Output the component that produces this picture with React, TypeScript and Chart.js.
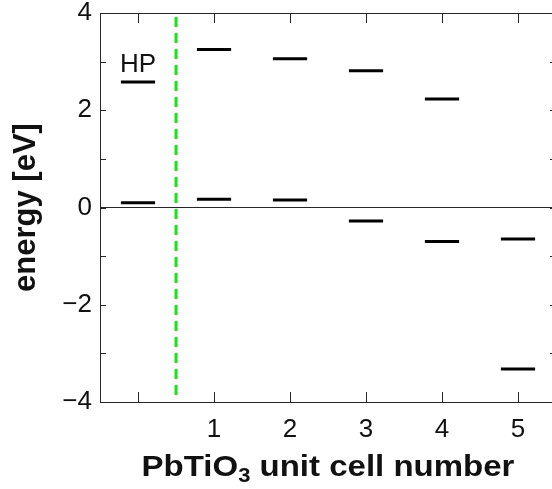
import React, { useEffect, useRef } from 'react';
import { Chart, registerables } from 'chart.js';
Chart.register(...registerables);

// ---- data ----
const cellNumbers = [0, 1, 2, 3, 4, 5];
const xTickLabels = ['', '1', '2', '3', '4', '5'];
const upperLevels = [2.58, 3.25, 3.06, 2.81, 2.23, -0.65];
const lowerLevels = [0.1, 0.17, 0.155, -0.28, -0.7, -3.32];
const yTickValues = [-4, -3, -2, -1, 0, 1, 2, 3, 4];
const yTickLabels = ['−4', '', '−2', '', '0', '', '2', '', '4'];
const boundaryX = [0.5];
const hpLabel = 'HP';
const xTitleMain = 'PbTiO';
const xTitleSub = '3';
const xTitleRest = ' unit cell number';
const yTitle = 'energy [eV]';

// ---- style constants ----
const X_MIN = -0.5;
const X_MAX = 5.5;
const Y_MIN = -4;
const Y_MAX = 4;
const SEG_HALF = 0.225;
const FONT = '"Liberation Sans", Arial, Helvetica, sans-serif';
const AXIS_COLOR = '#262626';
const TEXT_COLOR = '#111111';

export default function App() {
  const ref = useRef<HTMLCanvasElement | null>(null);

  useEffect(() => {
    const canvas = ref.current;
    if (!canvas) return;

    const datasets: any[] = [];
    cellNumbers.forEach((c, i) => {
      [upperLevels[i], lowerLevels[i]].forEach((v) => {
        datasets.push({
          data: [
            { x: c - SEG_HALF, y: v },
            { x: c + SEG_HALF, y: v },
          ],
          showLine: true,
          borderColor: '#000000',
          borderWidth: 3,
          borderCapStyle: 'butt',
          pointRadius: 0,
        });
      });
    });
    datasets.push({
      data: [
        { x: X_MIN, y: 0 },
        { x: X_MAX, y: 0 },
      ],
      showLine: true,
      borderColor: AXIS_COLOR,
      borderWidth: 1,
      pointRadius: 0,
    });
    boundaryX.forEach((bx) => {
      datasets.push({
        data: [
          { x: bx, y: Y_MAX - 0.08 },
          { x: bx, y: Y_MIN + 0.08 },
        ],
        showLine: true,
        borderColor: '#14e614',
        borderWidth: 3,
        borderDash: [10, 6],
        borderCapStyle: 'butt',
        pointRadius: 0,
      });
    });

    const framePlugin = {
      id: 'frame',
      afterDraw(chart: any) {
        const { ctx, chartArea } = chart;
        const { left, right, top, bottom } = chartArea;
        const xs = chart.scales.x;
        const ys = chart.scales.y;
        ctx.save();
        ctx.strokeStyle = AXIS_COLOR;
        ctx.lineWidth = 1;
        ctx.beginPath();
        ctx.rect(left + 0.5, top + 0.5, right - left, bottom - top);
        ctx.stroke();
        ctx.beginPath();
        cellNumbers.forEach((v) => {
          const px = Math.round(xs.getPixelForValue(v)) + 0.5;
          ctx.moveTo(px, bottom);
          ctx.lineTo(px, bottom - 10);
          ctx.moveTo(px, top);
          ctx.lineTo(px, top + 10);
        });
        yTickValues.forEach((v) => {
          const py = Math.round(ys.getPixelForValue(v)) + 0.5;
          ctx.moveTo(left, py);
          ctx.lineTo(left + 6, py);
          ctx.moveTo(right, py);
          ctx.lineTo(right - 6, py);
        });
        ctx.stroke();

        // HP label
        ctx.fillStyle = TEXT_COLOR;
        ctx.font = `26px ${FONT}`;
        ctx.textAlign = 'center';
        ctx.textBaseline = 'alphabetic';
        ctx.fillText(
          hpLabel,
          xs.getPixelForValue(cellNumbers[0]),
          ys.getPixelForValue(upperLevels[0]) - 10
        );

        // y title
        ctx.save();
        ctx.translate(26, (top + bottom) / 2);
        ctx.rotate(-Math.PI / 2);
        ctx.font = `bold 31px ${FONT}`;
        ctx.textAlign = 'center';
        ctx.textBaseline = 'middle';
        ctx.fillText(yTitle, 0, 0);
        ctx.restore();

        // x title with subscript (slightly widened like the reference)
        const mainFont = `bold 30px ${FONT}`;
        const subFont = `bold 20px ${FONT}`;
        ctx.font = mainFont;
        const w1 = ctx.measureText(xTitleMain).width;
        const w3 = ctx.measureText(xTitleRest).width;
        ctx.font = subFont;
        const w2 = ctx.measureText(xTitleSub).width;
        const total = w1 + w2 + w3;
        const cx = (left + right) / 2;
        const base = 476;
        ctx.save();
        ctx.translate(cx, base);
        ctx.scale(1.1, 1);
        let x0 = -total / 2;
        ctx.textAlign = 'left';
        ctx.textBaseline = 'alphabetic';
        ctx.font = mainFont;
        ctx.fillText(xTitleMain, x0, 0);
        x0 += w1;
        ctx.font = subFont;
        ctx.fillText(xTitleSub, x0, 6);
        x0 += w2;
        ctx.font = mainFont;
        ctx.fillText(xTitleRest, x0, 0);
        ctx.restore();
        ctx.restore();
      },
    };

    const chart = new Chart(canvas, {
      type: 'scatter',
      data: { datasets },
      options: {
        animation: false,
        responsive: false,
        devicePixelRatio: 1,
        layout: { padding: { top: 13, right: 4, left: 0, bottom: 0 } },
        plugins: {
          legend: { display: false },
          tooltip: { enabled: false },
        },
        scales: {
          x: {
            type: 'linear',
            min: X_MIN,
            max: X_MAX,
            afterBuildTicks: (s: any) => {
              s.ticks = cellNumbers.map((v) => ({ value: v }));
            },
            afterFit: (s: any) => {
              s.height = 87;
              s.paddingLeft = 0;
              s.paddingRight = 0;
            },
            ticks: {
              autoSkip: false,
              maxRotation: 0,
              padding: 12,
              color: TEXT_COLOR,
              font: { family: FONT, size: 26 },
              callback: (v: any) => {
                const i = cellNumbers.indexOf(Number(v));
                return i >= 0 ? xTickLabels[i] : '';
              },
            },
            grid: { display: false, drawTicks: false },
            border: { display: false },
          },
          y: {
            type: 'linear',
            min: Y_MIN,
            max: Y_MAX,
            afterBuildTicks: (s: any) => {
              s.ticks = yTickValues.map((v) => ({ value: v }));
            },
            afterFit: (s: any) => {
              s.width = 100;
              s.paddingTop = 0;
              s.paddingBottom = 0;
            },
            ticks: {
              autoSkip: false,
              padding: 8,
              color: TEXT_COLOR,
              font: { family: FONT, size: 26 },
              callback: (v: any) => {
                const i = yTickValues.indexOf(Number(v));
                return i >= 0 ? yTickLabels[i] : '';
              },
            },
            grid: { display: false, drawTicks: false },
            border: { display: false },
          },
        },
      },
      plugins: [framePlugin],
    });
    return () => chart.destroy();
  }, []);

  return (
    <div
      style={{
        position: 'fixed',
        left: 0,
        top: 0,
        width: 552,
        height: 489,
        overflow: 'hidden',
        background: '#ffffff',
      }}
    >
      <canvas ref={ref} width={560} height={489} style={{ display: 'block' }} />
    </div>
  );
}
